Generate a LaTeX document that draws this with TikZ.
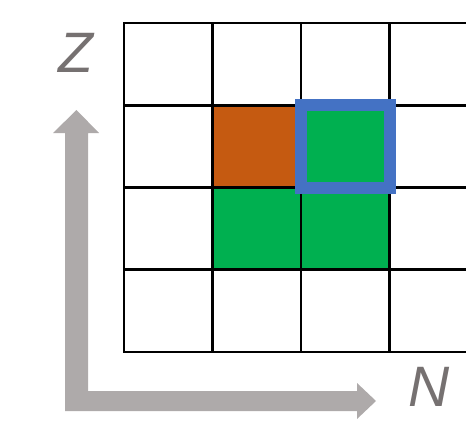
\documentclass[tikz,border=0pt]{standalone}
\usepackage{fontspec}
\setsansfont{Liberation Sans}
\definecolor{cellorange}{HTML}{C55A11}
\definecolor{cellgreen}{HTML}{00B050}
\definecolor{markblue}{HTML}{4472C4}
\definecolor{axisgray}{HTML}{AEAAAA}
\definecolor{labelgray}{HTML}{767171}
\tikzset{
  cell/.style={rectangle, draw=none, anchor=south west,
    minimum width=88.5pt, minimum height=82.25pt, inner sep=0, outer sep=0},
  axislabel/.style={text=labelgray, font=\fontsize{57}{57}\selectfont\sffamily\itshape}
}
\begin{document}
\begin{tikzpicture}[x=1pt, y=1pt]
  \useasboundingbox (0, 0) rectangle (466, 424);

  \node[cell, fill=cellorange] (c11) at (212.5, 236.5) {};
  \node[cell, fill=cellgreen] (c12) at (301, 236.5) {};
  \node[cell, fill=cellgreen] (c21) at (212.5, 154.25) {};
  \node[cell, fill=cellgreen] (c22) at (301, 154.25) {};

  % grid
  \foreach \y in {72, 154.25, 236.5, 318.75, 401}
    \draw[line width=2.6pt, line cap=rect] (124, \y) -- (466, \y);
  \foreach \x in {124, 212.5, 301, 389.5}
    \draw[line width=2.6pt, line cap=rect] (\x, 72) -- (\x, 401);

  \draw[markblue, line width=12pt, line cap=rect] (c12.south west) rectangle (c12.north east);

  % axes
  \fill[axisgray] (65, 13) -- (357, 13) -- (357, 5) -- (376, 23) -- (357, 41)
    -- (357, 33) -- (88, 33) -- (88, 291) -- (99, 291) -- (76.5, 314)
    -- (53, 291) -- (65, 291) -- cycle;

  \node[axislabel] (zlabel) at (75.5, 371.5) {Z};
  \node[axislabel] (nlabel) at (429.5, 37.5) {N};
\end{tikzpicture}
\end{document}
